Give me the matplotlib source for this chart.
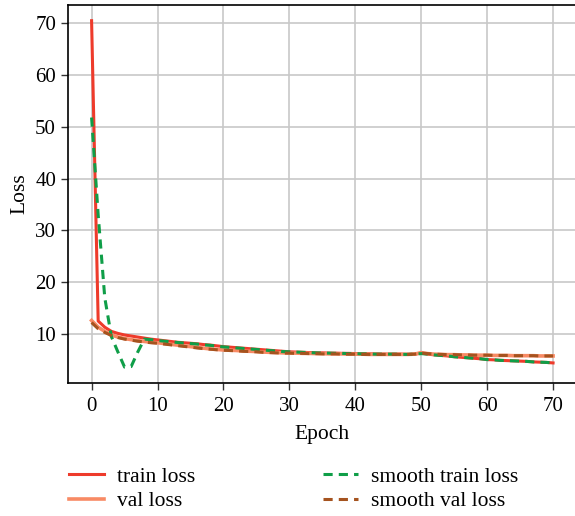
import matplotlib.pyplot as plt
import numpy as np

plt.rcParams['font.family'] = ['Liberation Serif', 'DejaVu Serif']

epochs = np.arange(71)

train_loss = [70.5, 12.5, 11.3, 10.5, 10.1, 9.8, 9.6, 9.4, 9.2, 9.0,
              8.85, 8.7, 8.55, 8.4, 8.3, 8.2, 8.1, 7.95, 7.85, 7.7,
              7.55, 7.45, 7.35, 7.25, 7.15, 7.05, 6.95, 6.85, 6.75, 6.65,
              6.55, 6.5, 6.45, 6.4, 6.35, 6.35, 6.3, 6.3, 6.25, 6.25,
              6.2, 6.2, 6.15, 6.15, 6.1, 6.1, 6.1, 6.1, 6.05, 6.1,
              6.3, 6.1, 5.95, 5.85, 5.75, 5.6, 5.5, 5.4, 5.3, 5.2,
              5.05, 5.0, 4.9, 4.85, 4.8, 4.75, 4.7, 4.6, 4.55, 4.5,
              4.4]

val_loss = [12.6, 11.3, 10.5, 9.8, 9.4, 9.1, 8.9, 8.7, 8.55, 8.4,
            8.3, 8.15, 8.0, 7.85, 7.7, 7.55, 7.4, 7.25, 7.1, 7.0,
            6.9, 6.85, 6.8, 6.7, 6.65, 6.6, 6.5, 6.45, 6.4, 6.35,
            6.3, 6.3, 6.25, 6.25, 6.2, 6.2, 6.15, 6.15, 6.15, 6.1,
            6.1, 6.1, 6.05, 6.05, 6.05, 6.05, 6.05, 6.05, 6.05, 6.1,
            6.4, 6.2, 6.1, 6.05, 6.0, 6.0, 5.95, 5.95, 5.9, 5.9,
            5.9, 5.85, 5.85, 5.85, 5.8, 5.8, 5.8, 5.8, 5.75, 5.75,
            5.75]

smooth_train_loss = [51.8, 33.0, 17.0, 9.5, 6.5, 3.6, 3.7, 6.5, 9.0, 8.9,
                     8.75, 8.6, 8.5, 8.35, 8.25, 8.15, 8.05, 7.9, 7.8, 7.65,
                     7.5, 7.4, 7.3, 7.2, 7.1, 7.0, 6.9, 6.8, 6.7, 6.6,
                     6.55, 6.5, 6.45, 6.4, 6.35, 6.3, 6.3, 6.25, 6.25, 6.2,
                     6.2, 6.15, 6.15, 6.1, 6.1, 6.1, 6.1, 6.05, 6.05, 6.1,
                     6.2, 6.1, 5.95, 5.85, 5.75, 5.6, 5.5, 5.4, 5.3, 5.2,
                     5.05, 5.0, 4.9, 4.85, 4.8, 4.75, 4.7, 4.6, 4.55, 4.5,
                     4.4]

smooth_val_loss = [12.2, 11.0, 10.3, 9.7, 9.3, 9.0, 8.8, 8.6, 8.45, 8.3,
                   8.2, 8.05, 7.9, 7.75, 7.6, 7.45, 7.3, 7.15, 7.05, 6.95,
                   6.85, 6.8, 6.75, 6.65, 6.6, 6.55, 6.45, 6.4, 6.35, 6.3,
                   6.3, 6.25, 6.25, 6.2, 6.2, 6.15, 6.15, 6.15, 6.1, 6.1,
                   6.1, 6.05, 6.05, 6.05, 6.05, 6.05, 6.05, 6.05, 6.05, 6.1,
                   6.3, 6.2, 6.1, 6.05, 6.0, 6.0, 5.95, 5.95, 5.9, 5.9,
                   5.9, 5.85, 5.85, 5.85, 5.8, 5.8, 5.8, 5.8, 5.75, 5.75,
                   5.75]

fig = plt.figure(figsize=(5.75, 5.16), dpi=100)
ax = fig.add_axes([0.118, 0.258, 0.884, 0.732])

ax.plot(epochs, train_loss, color='#ee3b2b', lw=2.2, label='train loss')
ax.plot(epochs, val_loss, color='#f88a64', lw=2.6, label='val loss')
ax.plot(epochs, smooth_train_loss, color='#0f9e48', lw=2.2, ls=(0, (3, 2)),
        label='smooth train loss')
ax.plot(epochs, smooth_val_loss, color='#a5531f', lw=2.2, ls=(0, (3, 2)),
        label='smooth val loss')

ax.set_xlim(-3.6, 73.5)
ax.set_ylim(0.55, 73.5)
ax.set_xticks(range(0, 71, 10))
ax.set_yticks(range(10, 71, 10))
ax.grid(True, color='#c8c8c8', lw=1.2)
ax.set_axisbelow(True)
ax.spines['right'].set_visible(False)
for s in ax.spines.values():
    s.set_color('black')
    s.set_linewidth(1.2)
ax.tick_params(labelsize=15, length=5, width=1, color='#333333')
ax.tick_params(axis='x', pad=5)
ax.set_xlabel('Epoch', fontsize=15.5, labelpad=7)
ax.set_ylabel('Loss', fontsize=15.5, labelpad=4)

ax.legend(loc='upper left', bbox_to_anchor=(-0.036, -0.171), ncol=2, frameon=False,
          fontsize=15.5, handlelength=1.65, handletextpad=0.6,
          columnspacing=5.9, labelspacing=0.2)

fig.savefig('out.png', dpi=100)
